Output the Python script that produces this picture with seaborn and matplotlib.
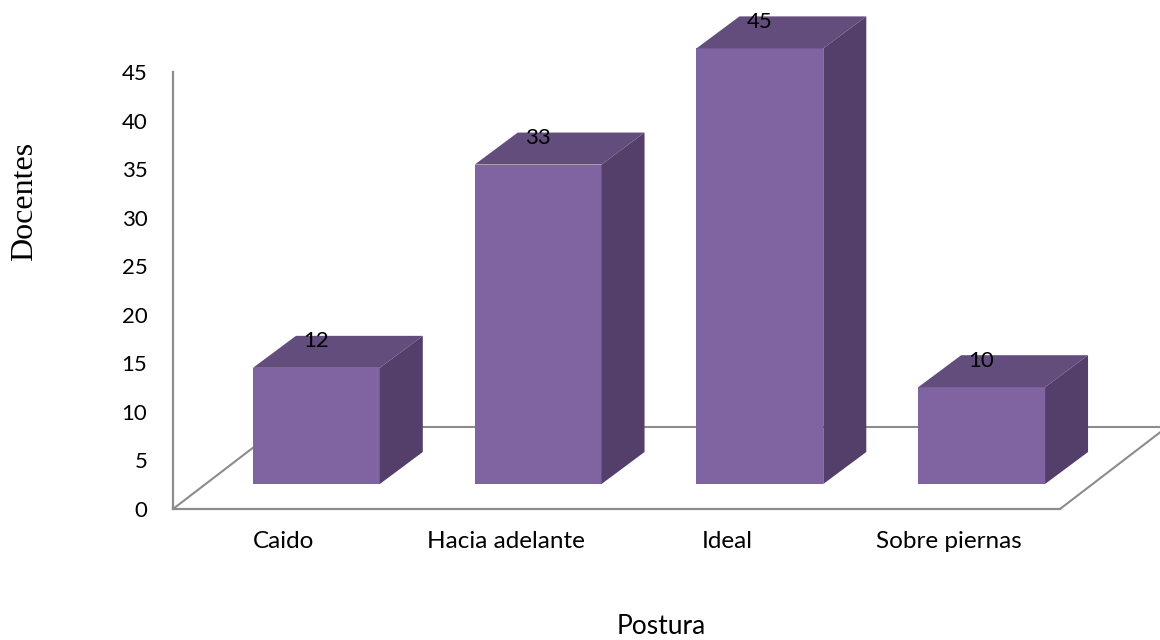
import matplotlib
matplotlib.use("Agg")
import matplotlib.pyplot as plt
from matplotlib.lines import Line2D
from matplotlib.patches import Polygon
import pandas as pd
import seaborn as sns

categories = ["Caido", "Hacia adelante", "Ideal", "Sobre piernas"]
docentes = [12, 33, 45, 10]
y_ticks = [0, 5, 10, 15, 20, 25, 30, 35, 40, 45]

FRONT = "#8064A2"
TOP = "#634D7C"
SIDE = "#533F69"
GRID = "#8C8C8C"

W, H = 1160, 640
sns.set_theme(style="white")
plt.rcParams["font.family"] = ["Lato", "DejaVu Sans"]
plt.rcParams["text.color"] = "black"

fig = plt.figure(figsize=(W / 100, H / 100), dpi=100, facecolor="white")


def pixel_axes(left, right, bottom, top):
    return fig.add_axes([left / W, 1 - bottom / H, (right - left) / W, (bottom - top) / H])


# Floor drawn in figure pixels beneath every axes, running back from the front edge
floor = [
    ((173, 509), (280, 427)),
    ((1060, 509), (1167, 427)),
    ((280, 427), (1167, 427)),
]
for (x0, y0), (x1, y1) in floor:
    fig.add_artist(Line2D([x0 / W, x1 / W], [1 - y0 / H, 1 - y1 / H],
                          color=GRID, lw=1.5, solid_capstyle="butt", zorder=-1))

# Back frame: the value axis, the floor's front edge and the category labels
frame = pixel_axes(173, 1060, 509, 72)
frame.set_xlim(-0.5, 3.5)
frame.set_ylim(0, 45)
frame.patch.set_alpha(0)
sns.despine(ax=frame, top=True, right=True)
for side in ("left", "bottom"):
    frame.spines[side].set_color(GRID)
    frame.spines[side].set_linewidth(1.6)
frame.set_yticks(y_ticks)
frame.set_xticks(range(len(categories)), categories)
frame.tick_params(axis="y", length=0, pad=18.5, labelsize=16, labelcolor="black")
frame.tick_params(axis="x", length=0, pad=15.5, labelsize=17.5, labelcolor="black")

# Bars sit on their own axes, raised off the floor's front edge
bars_ax = pixel_axes(205.5, 1092.5, 484, 484 - 45 * 9.68)
bars_ax.patch.set_alpha(0)
table = pd.DataFrame({"Postura": categories, "Docentes": docentes})
sns.barplot(data=table, x="Postura", y="Docentes", ax=bars_ax, color=FRONT,
            saturation=1, width=0.572, zorder=3, edgecolor="none", linewidth=0)
bars_ax.set_xlim(-0.5, 3.5)
bars_ax.set_ylim(0, 45)
bars_ax.axis("off")

# Extrude each bar into a box with a top and a right-hand face
depth_x = 43 / (887 / 4)
depth_y = 32 / 9.68
for bar, value in zip(bars_ax.patches, docentes):
    x0, x1 = bar.get_x(), bar.get_x() + bar.get_width()
    bar.set_clip_on(False)
    top = Polygon([(x0, value), (x1, value), (x1 + depth_x, value + depth_y), (x0 + depth_x, value + depth_y)],
                  closed=True, facecolor=TOP, edgecolor="none", clip_on=False, zorder=3)
    right = Polygon([(x1, 0), (x1 + depth_x, depth_y), (x1 + depth_x, value + depth_y), (x1, value)],
                    closed=True, facecolor=SIDE, edgecolor="none", clip_on=False, zorder=3)
    bars_ax.add_patch(top)
    bars_ax.add_patch(right)
    bars_ax.annotate(str(value), (x0 + (x1 - x0) / 2, value), xytext=(-0.5, 19),
                     textcoords="offset points", ha="center", va="center",
                     fontsize=16, color="black", clip_on=False, zorder=5)

fig.text(661 / W, 1 - 627 / H, "Postura", ha="center", va="center", fontsize=19, color="black")
fig.text(24.5 / W, 1 - 201 / H, "Docentes", rotation=90, ha="center", va="center",
         fontsize=23, color="black", family=["Liberation Serif", "DejaVu Serif"])

fig.savefig("out.png", dpi=100, facecolor="white")
